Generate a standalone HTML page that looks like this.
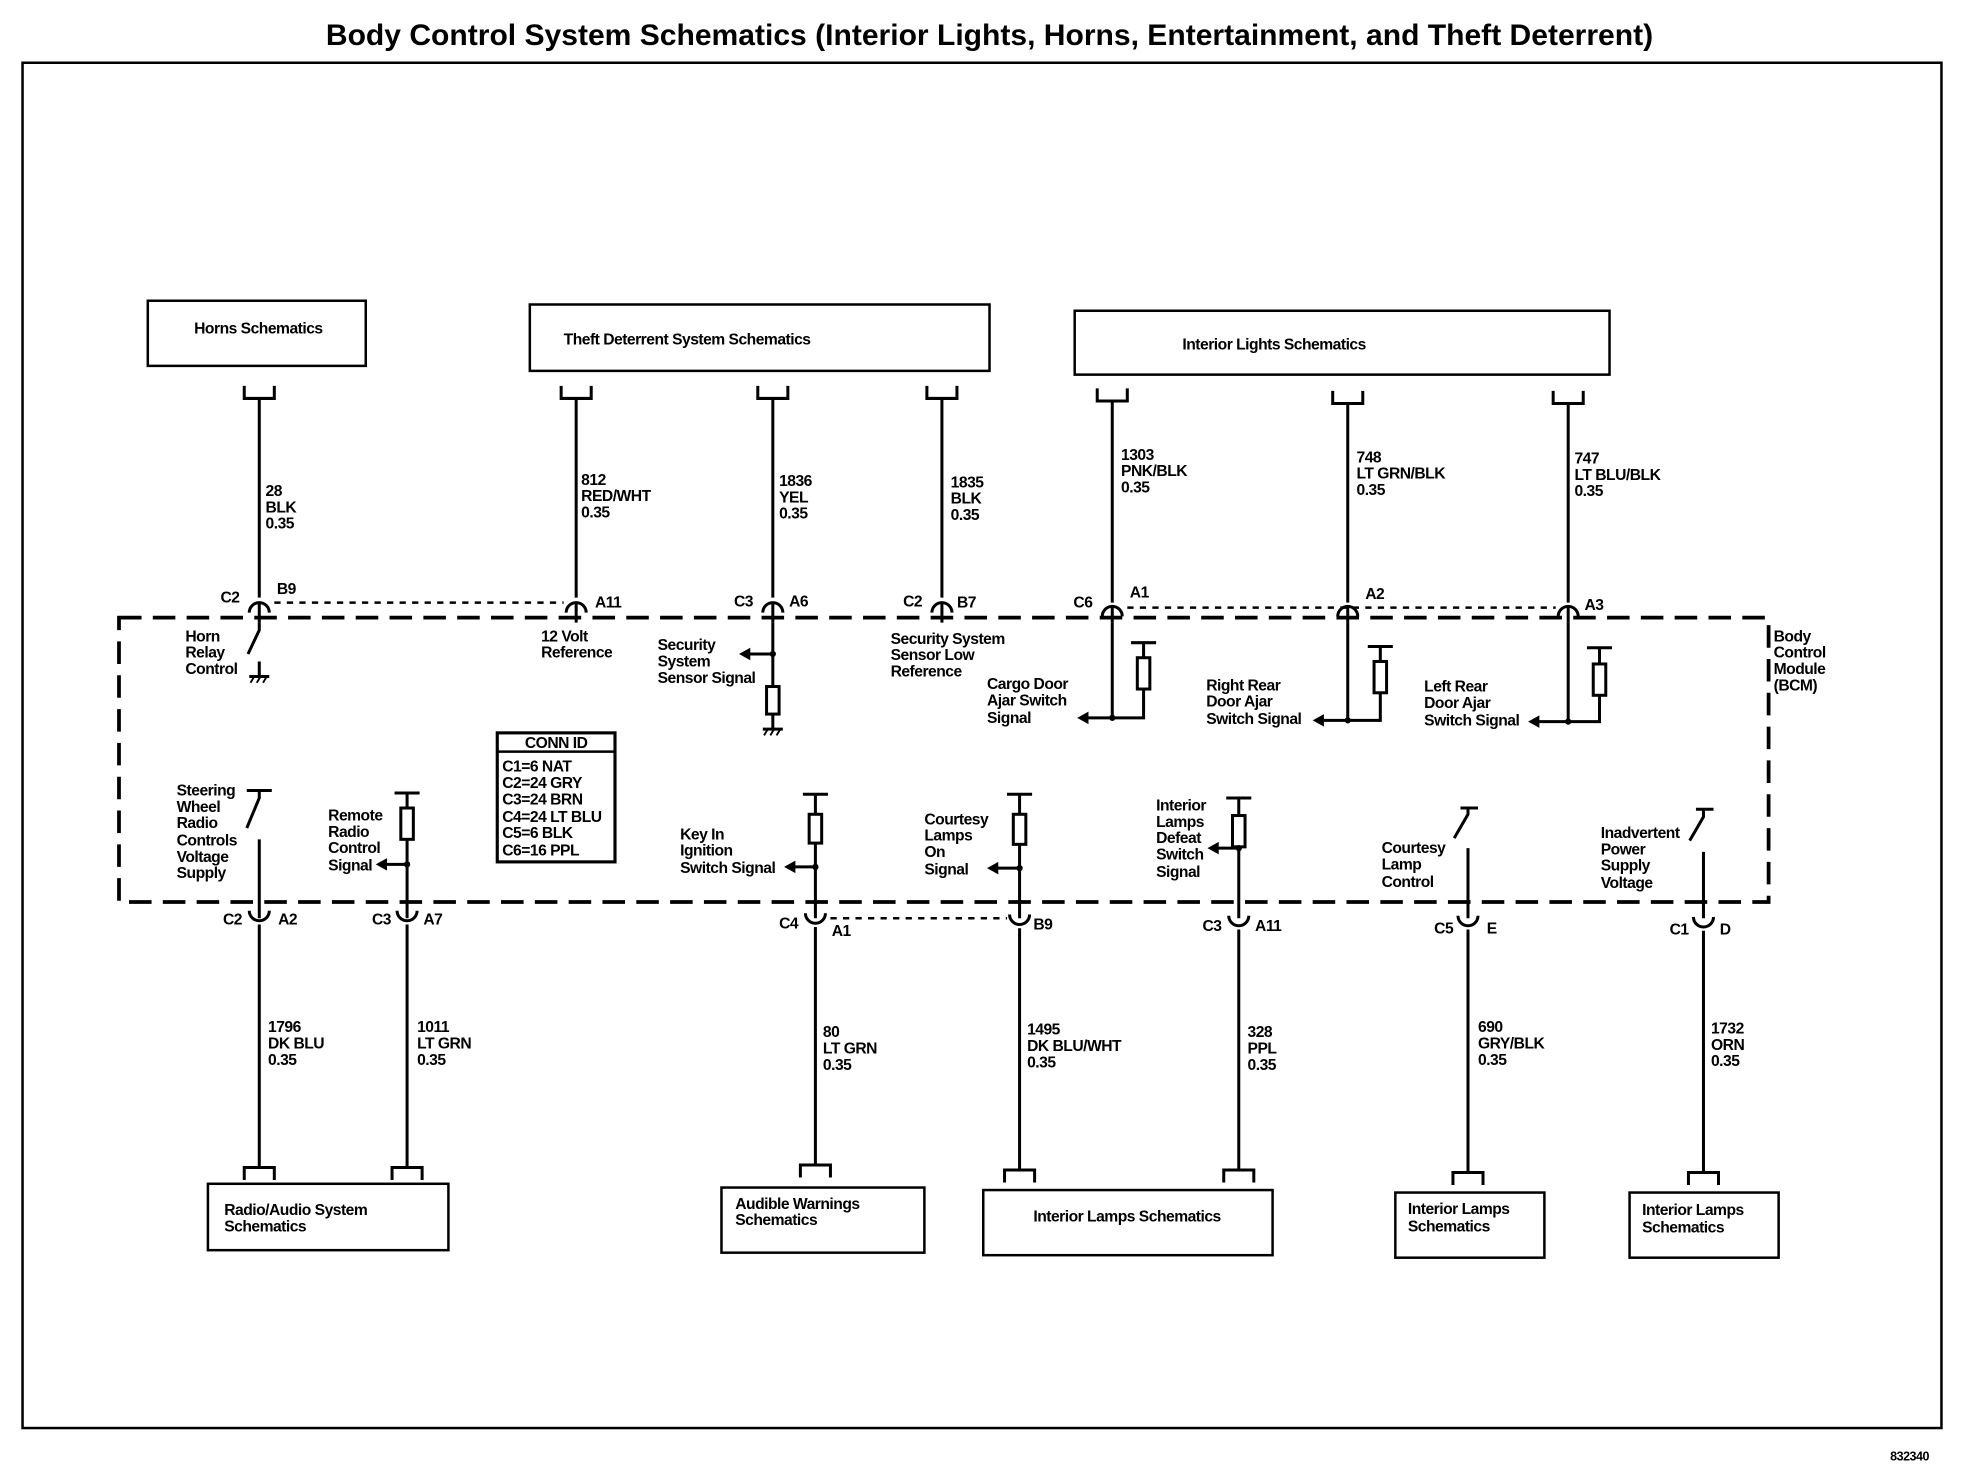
<!DOCTYPE html>
<html><head><meta charset="utf-8"><style>
html,body{margin:0;padding:0;background:#fff}
svg{display:block}
text{font-family:"Liberation Sans Narrow","Liberation Sans",sans-serif;font-weight:bold;font-size:12.5px;fill:#000;letter-spacing:-0.4px}
.t{font-family:"Liberation Sans",sans-serif;font-size:24px;letter-spacing:0}
</style></head><body>
<svg width="1964" height="1472" viewBox="0 0 1568 1175" xmlns="http://www.w3.org/2000/svg">
<text class="t" x="790" y="36" text-anchor="middle">Body Control System Schematics (Interior Lights, Horns, Entertainment, and Theft Deterrent)</text>
<rect x="18" y="50" width="1532" height="1090" fill="none" stroke="#000" stroke-width="2"/>
<text x="1540" y="1166" text-anchor="end" style="font-size:10px">832340</text>

<g fill="none" stroke="#000" stroke-width="2">
<rect x="118" y="240" width="174" height="52"/>
<rect x="423" y="243" width="367" height="53"/>
<rect x="858" y="248" width="427" height="51"/>
<rect x="166" y="945" width="192" height="53"/>
<rect x="576" y="948" width="162" height="52"/>
<rect x="785" y="950" width="231" height="52"/>
<rect x="1114" y="952" width="119" height="52"/>
<rect x="1301" y="952" width="119" height="52"/>
<rect x="95" y="493" width="1317" height="227" stroke-width="3" stroke-dasharray="18,9"/>
<path d="M219,481 H450 M900,485 H1242 M663,733 H804" stroke-width="2" stroke-dasharray="5,5"/>
<rect x="397" y="585" width="94" height="103" stroke-width="2.5"/>
<path d="M397,600 H491"/>
</g>

<g fill="none" stroke="#000" stroke-width="2.4">
<path d="M195,308 V318 H219 V308 M207,318 V477 M199,489 A8,8 0 0 1 215,489 M207,482 V497"/>
<path d="M448,308 V318 H472 V308 M460,318 V477 M452,489 A8,8 0 0 1 468,489 M460,482 V497"/>
<path d="M605,308 V318 H629 V308 M617,318 V477 M609,489 A8,8 0 0 1 625,489 M617,482 V497"/>
<path d="M740,308 V318 H764 V308 M752,318 V477 M744,489 A8,8 0 0 1 760,489 M752,482 V497"/>
<path d="M876,310 V320 H900 V310 M888,320 V481 M880,492 A8,8 0 0 1 896,492 M888,485 V497"/>
<path d="M1064,312 V322 H1088 V312 M1076,322 V481 M1068,492 A8,8 0 0 1 1084,492 M1076,485 V497"/>
<path d="M1240,312 V322 H1264 V312 M1252,322 V481 M1244,492 A8,8 0 0 1 1260,492 M1252,485 V497"/>
<path d="M207,720 V733 M199,727 A8,8 0 0 0 215,727 M207,738 V932 M195,942 V932 H219 V942"/>
<path d="M325,720 V733 M317,727 A8,8 0 0 0 333,727 M325,738 V932 M313,942 V932 H337 V942"/>
<path d="M651,720 V733 M643,729 A8,8 0 0 0 659,729 M651,740 V930 M639,940 V930 H663 V940"/>
<path d="M814,720 V733 M806,730 A8,8 0 0 0 822,730 M814,741 V934 M802,944 V934 H826 V944"/>
<path d="M989,720 V733 M981,731 A8,8 0 0 0 997,731 M989,742 V934 M977,944 V934 H1001 V944"/>
<path d="M1172,720 V733 M1164,731 A8,8 0 0 0 1180,731 M1172,742 V936 M1160,946 V936 H1184 V946"/>
<path d="M1360,720 V733 M1352,732 A8,8 0 0 0 1368,732 M1360,743 V936 M1348,946 V936 H1372 V946"/>

<path d="M207,497 V503 L198,522 M207,528 V540 M199,540 H215"/>
<path d="M200,545 L203,540 M205,545 L208,540 M210,545 L213,540" stroke-width="1.5"/>
<path d="M617,497 V548 M617,570 V582 M609,582 H625 M617,522 H598" />
<rect x="612" y="548" width="10" height="22"/>
<path d="M610,587 L613,582 M615,587 L618,582 M620,587 L623,582" stroke-width="1.5"/>
<path d="M888,497 V573 H868 M903,513 H923 M913,513 V525 M913,550 V573 H888"/>
<rect x="908" y="525" width="10" height="25"/>
<path d="M1076,497 V575 H1056 M1092,516 H1112 M1102,516 V528 M1102,553 V575 H1076"/>
<rect x="1097" y="528" width="10" height="25"/>
<path d="M1252,497 V576 H1228 M1267,517 H1287 M1277,517 V530 M1277,555 V576 H1252"/>
<rect x="1272" y="530" width="10" height="25"/>

<path d="M197,631 H217 M207,631 V637 L197,661 M207,670 V720"/>
<path d="M315,633 H335 M325,633 V645 M325,670 V720 M325,690 H308"/>
<rect x="320" y="645" width="10" height="25"/>
<path d="M641,634 H661 M651,634 V650 M651,673 V720 M651,692 H634"/>
<rect x="646" y="650" width="10" height="23"/>
<path d="M804,634 H824 M814,634 V650 M814,674 V720 M814,693 H796"/>
<rect x="809" y="650" width="10" height="24"/>
<path d="M979,637 H999 M989,637 V651 M989,676 V720 M989,677 H972"/>
<rect x="984" y="651" width="10" height="25"/>
<path d="M1166,645 H1180 M1172,645 V650 L1161,669 M1172,677 V720"/>
<path d="M1354,646 H1368 M1360,646 V652 L1349,671 M1360,680 V720"/>
</g>
<g fill="#000">
<path d="M590,522 L599,517 L599,527 Z"/>
<path d="M860,573 L869,568 L869,578 Z"/>
<path d="M1048,575 L1057,570 L1057,580 Z"/>
<path d="M1220,576 L1229,571 L1229,581 Z"/>
<path d="M300,690 L309,685 L309,695 Z"/>
<path d="M626,692 L635,687 L635,697 Z"/>
<path d="M788,693 L797,688 L797,698 Z"/>
<path d="M964,677 L973,672 L973,682 Z"/>
<circle cx="617" cy="522" r="2.5"/><circle cx="888" cy="573" r="2.5"/><circle cx="1076" cy="575" r="2.5"/><circle cx="1252" cy="576" r="2.5"/>
<circle cx="325" cy="690" r="2.5"/><circle cx="651" cy="692" r="2.5"/><circle cx="814" cy="693" r="2.5"/><circle cx="989" cy="677" r="2.5"/>
</g>

<text x="155" y="266">Horns Schematics</text>
<text x="450" y="275">Theft Deterrent System Schematics</text>
<text x="944" y="279">Interior Lights Schematics</text>
<text x="179" y="970">Radio/Audio System</text><text x="179" y="983">Schematics</text>
<text x="587" y="965">Audible Warnings</text><text x="587" y="978">Schematics</text>
<text x="825" y="975">Interior Lamps Schematics</text>
<text x="1124" y="969">Interior Lamps</text><text x="1124" y="983">Schematics</text>
<text x="1311" y="970">Interior Lamps</text><text x="1311" y="984">Schematics</text>

<text x="212" y="396">28</text><text x="212" y="409">BLK</text><text x="212" y="422">0.35</text>
<text x="464" y="387">812</text><text x="464" y="400">RED/WHT</text><text x="464" y="413">0.35</text>
<text x="622" y="388">1836</text><text x="622" y="401">YEL</text><text x="622" y="414">0.35</text>
<text x="759" y="389">1835</text><text x="759" y="402">BLK</text><text x="759" y="415">0.35</text>
<text x="895" y="367">1303</text><text x="895" y="380">PNK/BLK</text><text x="895" y="393">0.35</text>
<text x="1083" y="369">748</text><text x="1083" y="382">LT GRN/BLK</text><text x="1083" y="395">0.35</text>
<text x="1257" y="370">747</text><text x="1257" y="383">LT BLU/BLK</text><text x="1257" y="396">0.35</text>
<text x="176" y="481">C2</text><text x="221" y="474">B9</text>
<text x="475" y="485">A11</text>
<text x="586" y="484">C3</text><text x="630" y="484">A6</text>
<text x="721" y="484">C2</text><text x="764" y="485">B7</text>
<text x="857" y="485">C6</text><text x="902" y="477">A1</text>
<text x="1090" y="478">A2</text>
<text x="1265" y="487">A3</text>
<text x="178" y="738">C2</text><text x="222" y="738">A2</text>
<text x="297" y="738">C3</text><text x="338" y="738">A7</text>
<text x="622" y="741">C4</text><text x="664" y="747">A1</text>
<text x="825" y="742">B9</text>
<text x="960" y="743">C3</text><text x="1002" y="743">A11</text>
<text x="1145" y="745">C5</text><text x="1187" y="745">E</text>
<text x="1333" y="746">C1</text><text x="1373" y="746">D</text>
<text x="214" y="824">1796</text><text x="214" y="837">DK BLU</text><text x="214" y="850">0.35</text>
<text x="333" y="824">1011</text><text x="333" y="837">LT GRN</text><text x="333" y="850">0.35</text>
<text x="657" y="828">80</text><text x="657" y="841">LT GRN</text><text x="657" y="854">0.35</text>
<text x="820" y="826">1495</text><text x="820" y="839">DK BLU/WHT</text><text x="820" y="852">0.35</text>
<text x="996" y="828">328</text><text x="996" y="841">PPL</text><text x="996" y="854">0.35</text>
<text x="1180" y="824">690</text><text x="1180" y="837">GRY/BLK</text><text x="1180" y="850">0.35</text>
<text x="1366" y="825">1732</text><text x="1366" y="838">ORN</text><text x="1366" y="851">0.35</text>

<text x="148" y="512">Horn</text><text x="148" y="525">Relay</text><text x="148" y="538">Control</text>
<text x="432" y="512">12 Volt</text><text x="432" y="525">Reference</text>
<text x="525" y="519">Security</text><text x="525" y="532">System</text><text x="525" y="545">Sensor Signal</text>
<text x="711" y="514">Security System</text><text x="711" y="527">Sensor Low</text><text x="711" y="540">Reference</text>
<text x="788" y="550">Cargo Door</text><text x="788" y="563">Ajar Switch</text><text x="788" y="577">Signal</text>
<text x="963" y="551">Right Rear</text><text x="963" y="564">Door Ajar</text><text x="963" y="578">Switch Signal</text>
<text x="1137" y="552">Left Rear</text><text x="1137" y="565">Door Ajar</text><text x="1137" y="579">Switch Signal</text>
<text x="1416" y="512">Body</text><text x="1416" y="525">Control</text><text x="1416" y="538">Module</text><text x="1416" y="551">(BCM)</text>
<text x="141" y="635">Steering</text><text x="141" y="648">Wheel</text><text x="141" y="661">Radio</text><text x="141" y="675">Controls</text><text x="141" y="688">Voltage</text><text x="141" y="701">Supply</text>
<text x="262" y="655">Remote</text><text x="262" y="668">Radio</text><text x="262" y="681">Control</text><text x="262" y="695">Signal</text>
<text x="543" y="670">Key In</text><text x="543" y="683">Ignition</text><text x="543" y="697">Switch Signal</text>
<text x="738" y="658">Courtesy</text><text x="738" y="671">Lamps</text><text x="738" y="684">On</text><text x="738" y="698">Signal</text>
<text x="923" y="647">Interior</text><text x="923" y="660">Lamps</text><text x="923" y="673">Defeat</text><text x="923" y="686">Switch</text><text x="923" y="700">Signal</text>
<text x="1103" y="681">Courtesy</text><text x="1103" y="694">Lamp</text><text x="1103" y="708">Control</text>
<text x="1278" y="669">Inadvertent</text><text x="1278" y="682">Power</text><text x="1278" y="695">Supply</text><text x="1278" y="709">Voltage</text>
<text x="444" y="597" text-anchor="middle">CONN ID</text>
<text x="401" y="616">C1=6 NAT</text><text x="401" y="629">C2=24 GRY</text><text x="401" y="642">C3=24 BRN</text><text x="401" y="656">C4=24 LT BLU</text><text x="401" y="669">C5=6 BLK</text><text x="401" y="683">C6=16 PPL</text>
</svg>
</body></html>
